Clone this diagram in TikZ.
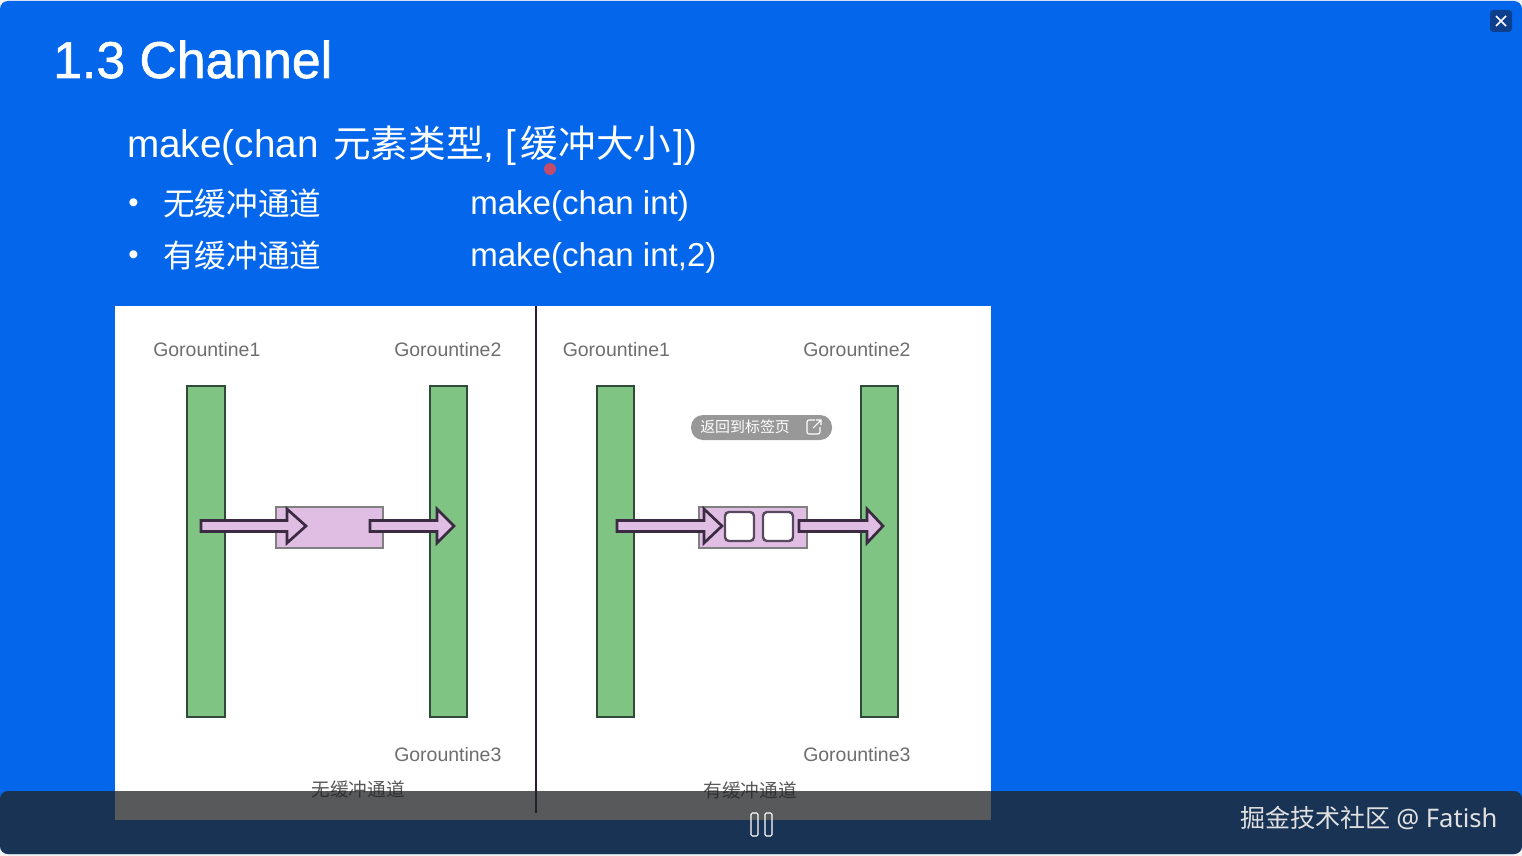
\documentclass[tikz,border=0pt]{standalone}
\usepackage{fontspec}
\setmainfont{Liberation Sans}
\newfontfamily\cjk{Noto Sans CJK SC}
\newfontfamily\wm{Noto Sans}
\newfontfamily\semi[FakeBold=1.2]{Liberation Sans}
\definecolor{slideblue}{HTML}{0366EB}
\definecolor{barink}{RGB}{33,34,36}
\definecolor{gogreen}{HTML}{80C483}
\definecolor{goline}{HTML}{2F4A38}
\definecolor{chanfill}{HTML}{E0BEE4}
\definecolor{arrowline}{HTML}{3A2A42}
\definecolor{labelgrey}{HTML}{6E6E6E}
\definecolor{pillgrey}{HTML}{989898}
\definecolor{closeblue}{HTML}{0D3F8C}
\tikzset{
  txt/.style={inner sep=0pt,anchor=base west,text=white},
  golabel/.style={inner sep=0pt,anchor=base west,text=labelgrey,font=\fontsize{14.6}{16}\selectfont},
  capt/.style={inner sep=0pt,anchor=base,text=labelgrey!80!black,font=\cjk\fontsize{14}{16}\selectfont},
  gobar/.style={draw=goline,line width=1.5pt,fill=gogreen},
  chanbox/.style={draw=gray,line width=1pt,fill=chanfill},
  cell/.style={draw=arrowline!85!white,line width=1.8pt,fill=white,rounded corners=3pt},
  blockarrow/.style={draw=arrowline,line width=2pt,fill=chanfill,line join=miter}
}
\newcommand{\blockarr}[3]{% x start, head base, tip (y centre 526)
  \draw[blockarrow] (#1,520.5) -- (#2,520.5) -- (#2,509) -- (#3,526) -- (#2,543) -- (#2,531.5) -- (#1,531.5) -- cycle;}
\begin{document}
\begin{tikzpicture}[x=0.75pt,y=-0.75pt]
\useasboundingbox (0,0) rectangle (1522,856);
\fill[white!90!gray] (0,0) rectangle (1522,856);
\fill[slideblue,rounded corners=6pt] (0,1) rectangle (1522,854);
% title and text
\node[txt,font=\semi\fontsize{38.8}{44}\selectfont] (title) at (53,78) {1.3 Channel};
\node[txt,font=\fontsize{29}{32}\selectfont] (head) at (127,157) {make(chan\hspace{3pt} {\cjk\fontsize{28.2}{32}\selectfont 元素类型}, [\hspace{3.75pt}{\cjk\fontsize{28.2}{32}\selectfont 缓冲大小}\hspace{2pt}])};
\fill[red!70!slideblue!80!white] (550,169) circle[radius=6];
\node[txt,font=\fontsize{22}{26}\selectfont] (b1) at (128,212) {•};
\node[txt,font=\cjk\fontsize{23.7}{28}\selectfont] (t1) at (163,215) {无缓冲通道};
\node[txt,font=\fontsize{24.8}{28}\selectfont] (c1) at (470,214.5) {make(chan int)};
\node[txt,font=\fontsize{22}{26}\selectfont] (b2) at (128,264) {•};
\node[txt,font=\cjk\fontsize{23.7}{28}\selectfont] (t2) at (163,267) {有缓冲通道};
\node[txt,font=\fontsize{24.8}{28}\selectfont] (c2) at (470,266.5) {make(chan int,2)};
% white panel
\fill[white] (115,306) rectangle (991,820);
\draw[arrowline!70!black,line width=1.5pt] (536,306) -- (536,813);
% labels
\node[golabel] (la) at (153,356) {Gorountine1};
\node[golabel] (lb) at (394,356) {Gorountine2};
\node[golabel] (lc) at (394,761) {Gorountine3};
\node[golabel] (ra) at (562.5,356) {Gorountine1};
\node[golabel] (rb) at (803,356) {Gorountine2};
\node[golabel] (rc) at (803,761) {Gorountine3};
% left
\draw[gobar] (187,386) rectangle (225,717);
\draw[gobar] (430,386) rectangle (467,717);
\draw[chanbox] (276,507) rectangle (383,548);
\blockarr{201}{287}{306}
\blockarr{370}{437}{454}
% right
\draw[gobar] (597,386) rectangle (634,717);
\draw[gobar] (861,386) rectangle (898,717);
\draw[chanbox] (699,507) rectangle (807,548);
\draw[cell] (725,512) rectangle (754,541);
\draw[cell] (763,512) rectangle (793,541);
\blockarr{617}{704}{722}
\blockarr{799}{867}{883}
% captions
\node[capt] (capl) at (358,796) {无缓冲通道};
\node[capt] (capr) at (750,797) {有缓冲通道};
% pill
\fill[pillgrey,rounded corners=9pt] (691,415) rectangle (832,440);
\node[txt,font=\cjk\fontsize{11.2}{13}\selectfont] (pill) at (700,432) {返回到标签页};
\draw[white,line width=.8pt,rounded corners=1.5pt] (815,420) -- (807,420) -- (807,434) -- (820,434) -- (820,427);
\draw[white,line width=.8pt] (813,428) -- (821,420) (816,420) -- (821,420) -- (821,425);
% bottom bar
\fill[barink,fill opacity=.75,rounded corners=6pt] (0,791) -- (1522,791) -- (1522,854) -- (0,854) -- cycle;
\draw[white,line width=.8pt,rounded corners=1pt] (751,813) rectangle (758,836);
\draw[white,line width=.8pt,rounded corners=1pt] (765,813) rectangle (772,836);
\node[txt,text=white!88!black,font=\cjk\fontsize{18.8}{22}\selectfont] (mark) at (1240,827) {掘金技术社区 {\wm\fontsize{19.2}{22}\selectfont @ Fatish}};
% close button
\fill[closeblue,rounded corners=2.5pt] (1490,10) rectangle (1512,32);
\draw[white,line width=1.3pt] (1496,16) -- (1506,26) (1506,16) -- (1496,26);
\end{tikzpicture}
\end{document}
